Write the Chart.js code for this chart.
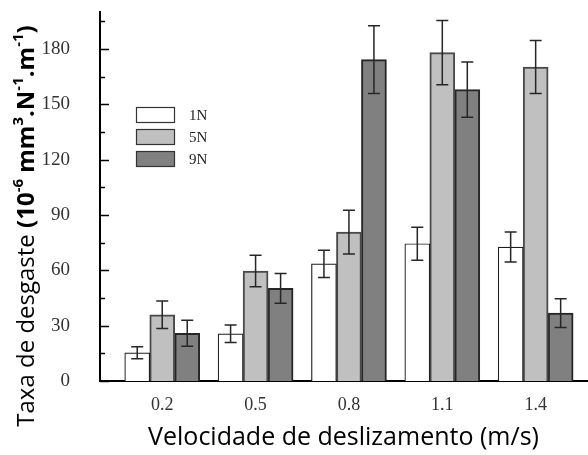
<!DOCTYPE html>
<html>
<head>
<meta charset="utf-8">
<script src="https://cdn.jsdelivr.net/npm/chart.js@4.4.1/dist/chart.umd.min.js"></script>
<style>
  body { margin: 0; background: #fff; }
  canvas { display: block; }
</style>
</head>
<body>
<canvas id="wearChart" width="588" height="455"></canvas>
<script>
// sliding speed (m/s) and wear rate for each normal load
const speeds = [0.2, 0.5, 0.8, 1.1, 1.4];
const rate1N = [15.3, 25.6, 63.5, 74.4, 72.6];
const rate5N = [35.9, 59.6, 80.7, 178.0, 170.2];
const rate9N = [25.9, 50.2, 174.2, 157.9, 36.8];
// standard deviations
const err1N = [3.3, 4.7, 7.4, 9.0, 8.1];
const err5N = [7.4, 8.5, 11.9, 17.4, 14.4];
const err9N = [7.0, 8.0, 18.4, 15.0, 7.8];
const yTicks = [0, 30, 60, 90, 120, 150, 180];
const yMinorTicks = [15, 45, 75, 105, 135, 165, 195];
const loads = ['1N', '5N', '9N'];

function points(vals) {
    return speeds.map((s, i) => ({ x: s, y: vals[i] }));
}

// error bars on top of each bar
const errorBars = {
    id: 'errorBars',
    afterDatasetsDraw(chart) {
        const ctx = chart.ctx;
        const yScale = chart.scales.y;
        ctx.save();
        ctx.strokeStyle = '#262626';
        ctx.lineWidth = 1.5;
        chart.data.datasets.forEach((ds, di) => {
            const meta = chart.getDatasetMeta(di);
            meta.data.forEach((bar, i) => {
                const v = ds.data[i].y;
                const e = ds.errors[i];
                const yTop = yScale.getPixelForValue(v + e);
                const yBot = yScale.getPixelForValue(v - e);
                ctx.beginPath();
                ctx.moveTo(bar.x, yTop);
                ctx.lineTo(bar.x, yBot);
                ctx.moveTo(bar.x - 6, yTop);
                ctx.lineTo(bar.x + 6, yTop);
                ctx.moveTo(bar.x - 6, yBot);
                ctx.lineTo(bar.x + 6, yBot);
                ctx.stroke();
            });
        });
        ctx.restore();
    }
};

// inward tick marks, boxed legend and the y title with superscripts
const decorations = {
    id: 'decorations',
    afterDraw(chart) {
        const ctx = chart.ctx;
        const yScale = chart.scales.y;
        const left = chart.chartArea.left;
        ctx.save();
        ctx.strokeStyle = '#000';
        ctx.lineWidth = 1.5;
        yTicks.forEach(v => {
            const y = Math.round(yScale.getPixelForValue(v)) + 0.5;
            ctx.beginPath();
            ctx.moveTo(left, y);
            ctx.lineTo(left + 9, y);
            ctx.stroke();
        });
        yMinorTicks.forEach(v => {
            const y = Math.round(yScale.getPixelForValue(v)) + 0.5;
            ctx.beginPath();
            ctx.moveTo(left, y);
            ctx.lineTo(left + 5, y);
            ctx.stroke();
        });

        // legend
        chart.data.datasets.forEach((ds, i) => {
            const top = 107 + i * 22;
            ctx.fillStyle = ds.backgroundColor;
            ctx.fillRect(136, top, 39, 16);
            ctx.strokeStyle = '#333';
            ctx.lineWidth = 1.2;
            ctx.strokeRect(136.5, top + 0.5, 38, 15);
            ctx.fillStyle = '#222';
            ctx.font = '15px "Liberation Serif"';
            ctx.textBaseline = 'middle';
            ctx.textAlign = 'left';
            ctx.fillText(ds.label, 189, top + 9);
        });

        // y axis title
        const parts = [
            ['Taxa de desgaste ', false, false],
            ['(10', true, false],
            ['-6', true, true],
            [' mm', true, false],
            ['3', true, true],
            ['.N', true, false],
            ['-1', true, true],
            ['.m', true, false],
            ['-1', true, true],
            [')', true, false]
        ];
        const size = 24;
        const fontFor = p => (p[1] ? 'bold ' : '') + (p[2] ? Math.round(size * 0.62) : size) + 'px "Open Sans"';
        let total = 0;
        parts.forEach(p => { ctx.font = fontFor(p); total += ctx.measureText(p[0]).width; });
        ctx.translate(34, 226);
        ctx.rotate(-Math.PI / 2);
        ctx.fillStyle = '#000';
        ctx.textBaseline = 'alphabetic';
        let x = -total / 2;
        parts.forEach(p => {
            ctx.font = fontFor(p);
            ctx.fillText(p[0], x, p[2] ? -size * 0.45 : 0);
            x += ctx.measureText(p[0]).width;
        });
        ctx.restore();
    }
};

const ctx = document.getElementById('wearChart').getContext('2d');
const wearChart = new Chart(ctx, {
    type: 'bar',
    data: {
        datasets: [
            {
                label: loads[0],
                data: points(rate1N),
                errors: err1N,
                backgroundColor: '#ffffff',
                borderColor: '#1e1e1e',
                borderWidth: 1.2
            },
            {
                label: loads[1],
                data: points(rate5N),
                errors: err5N,
                backgroundColor: '#c0c0c0',
                borderColor: '#4a4a4a',
                borderWidth: 2
            },
            {
                label: loads[2],
                data: points(rate9N),
                errors: err9N,
                backgroundColor: '#808080',
                borderColor: '#262626',
                borderWidth: 2
            }
        ]
    },
    options: {
        responsive: false,
        animation: false,
        devicePixelRatio: 1,
        layout: { padding: { top: 12, right: 1, left: 0, bottom: 0 } },
        datasets: { bar: { barThickness: 25 } },
        plugins: {
            legend: { display: false },
            tooltip: { enabled: false }
        },
        scales: {
            x: {
                type: 'linear',
                offset: false,
                min: 0,
                max: 1.565,
                afterBuildTicks: s => { s.ticks = speeds.map(v => ({ value: v })); },
                afterFit: s => { s.height = 74; s.paddingLeft = 0; s.paddingRight = 0; },
                grid: { display: false },
                border: { display: true, color: '#000', width: 2 },
                ticks: {
                    padding: 5,
                    color: '#333',
                    font: { family: 'Liberation Serif', size: 18 },
                    callback: v => v.toFixed(1)
                },
                title: {
                    display: true,
                    text: 'Velocidade de deslizamento (m/s)',
                    color: '#000',
                    font: { family: 'Open Sans', size: 25 },
                    padding: { top: 0, bottom: 2 }
                }
            },
            y: {
                min: 0,
                max: 200,
                afterBuildTicks: s => { s.ticks = yTicks.map(v => ({ value: v })); },
                afterFit: s => { s.width = 100; s.paddingTop = 0; s.paddingBottom = 0; },
                grid: { display: false },
                border: { display: true, color: '#000', width: 2 },
                ticks: {
                    padding: 22,
                    color: '#333',
                    font: { family: 'Liberation Serif', size: 19 }
                }
            }
        }
    },
    plugins: [errorBars, decorations]
});
</script>
</body>
</html>
